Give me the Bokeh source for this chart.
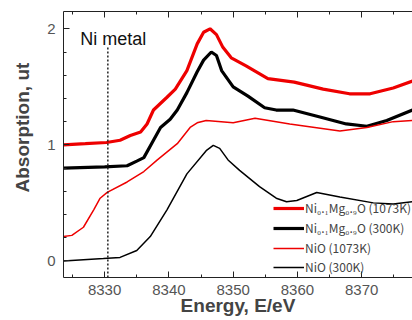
from bokeh.plotting import figure
from bokeh.models import (Range1d, LinearAxis, SingleIntervalTicker, Legend, LegendItem, Title)
from bokeh.core.properties import value
from bokeh.embed import file_html
from bokeh.resources import INLINE

# --- data -------------------------------------------------------------
mg1073_x = [8323.6, 8327.0, 8330.3, 8332.4, 8334.0, 8335.6, 8336.6, 8337.6, 8339.7, 8341.0, 8342.8,
            8344.4, 8345.4, 8346.4, 8347.4, 8348.4, 8349.7, 8352.0, 8355.4, 8359.5, 8364.0, 8368.1,
            8371.3, 8374.9, 8377.9]
mg1073_y = [1.00, 1.01, 1.02, 1.04, 1.08, 1.11, 1.18, 1.30, 1.41, 1.48, 1.64,
            1.87, 1.97, 2.00, 1.95, 1.84, 1.75, 1.68, 1.57, 1.54, 1.48, 1.44,
            1.44, 1.49, 1.55]

mg300_x = [8323.6, 8330.0, 8333.5, 8335.0, 8336.1, 8337.6, 8338.7, 8340.2, 8341.3, 8342.8, 8344.4,
           8345.4, 8346.6, 8347.4, 8348.2, 8350.0, 8352.3, 8354.9, 8356.7, 8359.3, 8363.5, 8367.6,
           8370.8, 8373.9, 8377.9]
mg300_y = [0.80, 0.81, 0.82, 0.86, 0.89, 1.04, 1.15, 1.22, 1.30, 1.45, 1.63,
           1.73, 1.80, 1.77, 1.64, 1.50, 1.42, 1.32, 1.30, 1.30, 1.24, 1.18,
           1.16, 1.21, 1.30]

nio1073_x = [8323.6, 8324.9, 8326.7, 8328.3, 8329.3, 8330.4, 8333.5, 8336.1, 8338.2, 8341.3, 8343.3,
             8344.4, 8345.8, 8350.0, 8353.4, 8358.8, 8366.6, 8370.8, 8374.9, 8377.9]
nio1073_y = [0.21, 0.22, 0.29, 0.44, 0.54, 0.59, 0.68, 0.77, 0.87, 1.01, 1.15,
             1.19, 1.21, 1.19, 1.23, 1.18, 1.12, 1.15, 1.20, 1.21]

nio300_x = [8323.6, 8329.8, 8332.4, 8335.0, 8337.1, 8339.7, 8342.8, 8345.8, 8346.9, 8347.9, 8349.2,
            8351.0, 8354.1, 8356.7, 8358.3, 8359.9, 8363.0, 8366.6, 8371.8, 8374.9, 8377.9]
nio300_y = [0.00, 0.02, 0.03, 0.09, 0.21, 0.44, 0.75, 0.95, 0.995, 0.97, 0.87,
            0.78, 0.64, 0.54, 0.51, 0.52, 0.59, 0.55, 0.50, 0.49, 0.51]

ni_metal_edge = 8330.5
ni_metal_top = 1.84
series_labels = ["Ni\u2080.\u2081Mg\u2080.\u2089O (1073K)",
                 "Ni\u2080.\u2081Mg\u2080.\u2089O (300K)",
                 "NiO (1073K)",
                 "NiO (300K)"]

x_start, x_end = 8323.6, 8377.9
y_start, y_end = -0.143, 2.149

# --- figure -----------------------------------------------------------
p = figure(width=412, height=320, output_backend="svg", toolbar_location=None,
           x_range=Range1d(x_start, x_end), y_range=Range1d(y_start, y_end),
           x_axis_location=None, y_axis_location=None,
           min_border_left=63, min_border_right=0, min_border_top=11, min_border_bottom=43)
p.outline_line_color = None
p.grid.visible = False
p.background_fill_color = "white"
p.border_fill_color = "white"

xt = SingleIntervalTicker(interval=10, num_minor_ticks=2)
yt = SingleIntervalTicker(interval=1, num_minor_ticks=5)

def style(ax):
    ax.major_tick_in = 6
    ax.major_tick_out = 0
    ax.minor_tick_in = 3
    ax.minor_tick_out = 0
    ax.axis_line_color = "#222222"
    ax.major_tick_line_color = "#222222"
    ax.minor_tick_line_color = "#222222"
    ax.major_label_text_font = "Liberation Sans"
    ax.major_label_text_font_size = "15px"
    ax.major_label_text_color = "#555555"

xb = LinearAxis(ticker=xt)
style(xb)
xb.major_label_standoff = 7
xb.axis_label = "Energy, E/eV"
xb.axis_label_text_font = "Liberation Sans"
xb.axis_label_text_font_style = "bold"
xb.axis_label_text_font_size = "19px"
xb.axis_label_standoff = -3
p.add_layout(xb, "below")

xa = LinearAxis(ticker=xt)
style(xa)
xa.major_label_text_font_size = "0px"
xa.major_label_text_color = None
xa.major_label_standoff = 0
p.add_layout(xa, "above")

yl = LinearAxis(ticker=yt)
style(yl)
yl.major_label_standoff = 8
p.add_layout(yl, "left")

p.add_layout(Title(text="Absorption, ut", align="left", offset=85, vertical_align="top",
                   text_font="Liberation Sans", text_font_style="bold",
                   text_font_size="19px", standoff=20), "left")

# --- lines ------------------------------------------------------------
r1 = p.line(mg1073_x, mg1073_y, line_color="#ee0000", line_width=3.2)
r2 = p.line(mg300_x, mg300_y, line_color="#000000", line_width=3.2)
r3 = p.line(nio1073_x, nio1073_y, line_color="#ee0000", line_width=1.5)
r4 = p.line(nio300_x, nio300_y, line_color="#000000", line_width=1.5)

p.segment(x0=[ni_metal_edge], y0=[y_start], x1=[ni_metal_edge], y1=[ni_metal_top],
          line_color="#222222", line_width=1.5, line_dash="2 2")
p.text(x=[8326.2], y=[1.915], text=["Ni metal"], text_font=value("Liberation Sans"),
       text_font_size="18px", text_baseline="middle", text_align="left", text_color="#111111")

legend = Legend(items=[LegendItem(label=series_labels[0], renderers=[r1]),
                       LegendItem(label=series_labels[1], renderers=[r2]),
                       LegendItem(label=series_labels[2], renderers=[r3]),
                       LegendItem(label=series_labels[3], renderers=[r4])],
                location=(210, 2), glyph_width=31, glyph_height=16, spacing=2,
                padding=0, margin=0, label_standoff=1, border_line_color=None,
                background_fill_alpha=0, label_text_font="Noto Sans CJK JP",
                label_text_font_size="12px", label_height=16)
p.add_layout(legend, "center")

open("out.html", "w").write(file_html(p, INLINE))
